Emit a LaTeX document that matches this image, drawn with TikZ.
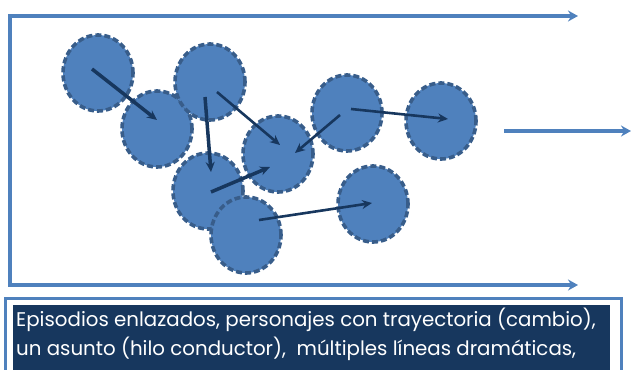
\documentclass[tikz,border=0pt]{standalone}
\usepackage{fontspec}
\setmainfont{Poppins}
\usetikzlibrary{shapes.geometric,arrows.meta,calc}
\definecolor{mblue}{HTML}{4F81BD}
\definecolor{dblue}{HTML}{385D8A}
\definecolor{navy}{HTML}{17375E}
\tikzset{
  blob/.style={ellipse, fill=mblue, draw=dblue, line width=3.6pt, dash pattern=on 6pt off 3pt, minimum width=70pt, minimum height=76pt, inner sep=0pt},
  link/.style={draw=navy, line width=2.6pt, -{Stealth[length=10pt,width=9pt]}},
  biglink/.style={link, line width=3.5pt},
  flow/.style={draw=mblue, line width=4.4pt},
  tip/.style={-{Stealth[length=10pt,width=11pt]}},
  txt/.style={text=white, anchor=base west, inner sep=0pt, font=\fontsize{19.8}{22}\selectfont}
}
\begin{document}
\begin{tikzpicture}[x=1pt,y=-1pt]
\useasboundingbox (0,0) rectangle (631,369);
% frame
\coordinate (tl) at (10,16);
\coordinate (bl) at (10,285);
\coordinate (tr) at (578,16);
\coordinate (br) at (578,285);
\coordinate (ms) at (504,131);
\coordinate (me) at (631,131);
\draw[flow, {Stealth[length=10pt,width=11pt]}-{Stealth[length=10pt,width=11pt]}, line join=miter] (tr) -- (tl) -- (bl) -- (br);
\draw[flow, tip] (ms) -- (me);
% blobs
\node[blob] (c1) at (98,73) {};
\node[blob] (c2) at (157,129) {};
\node[blob] (c3) at (210,82) {};
\node[blob] (c4) at (278,154) {};
\node[blob] (c5) at (208,191) {};
\node[blob] (c6) at (246,235) {};
\node[blob] (c7) at (347,113) {};
\node[blob] (c8) at (441,121) {};
\node[blob] (c9) at (373,204) {};
% links
\draw[biglink] ([shift={(-6,-4)}]c1.center) -- ([shift={(0,-9)}]c2.center);
\draw[biglink] ([shift={(-5,15)}]c3.center) -- ([shift={(3,-19)}]c5.center);
\draw[link] ([shift={(7,10)}]c3.center) -- ([shift={(2,-9)}]c4.center);
\draw[link] ([shift={(-7,2)}]c7.center) -- ([shift={(17,-1)}]c4.center);
\draw[link] ([shift={(4,-4)}]c7.center) -- ([shift={(7,-2)}]c8.center);
\draw[biglink] ([shift={(3,1)}]c5.center) -- ([shift={(-8,13)}]c4.center);
\draw[link] ([shift={(13,-15)}]c6.center) -- ([shift={(-1,-1)}]c9.center);
% text box
\node[draw=mblue, line width=2.8pt, fill=white, minimum width=616pt, minimum height=90pt, anchor=north west, inner sep=0pt] (outer) at (4,297) {};
\node[fill=navy, minimum width=597pt, minimum height=80pt, anchor=north west, inner sep=0pt] (inner) at (13,305) {};
\node[txt] (l1) at (16,326) {Episodios enlazados, personajes con trayectoria (cambio),};
\node[txt] (l2) at (16,355) {un asunto (hilo conductor),\ \ múltiples líneas dramáticas,};
\end{tikzpicture}
\end{document}
